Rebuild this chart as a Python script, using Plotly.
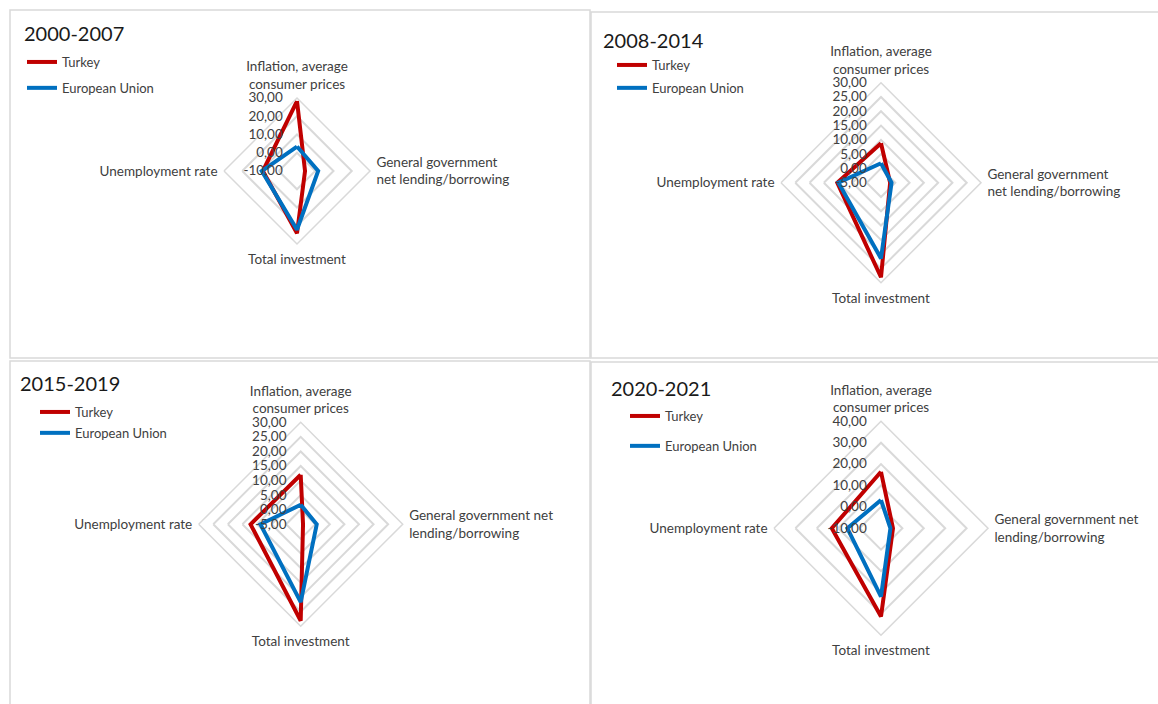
import plotly.graph_objects as go

W, H = 1158, 704

# Categories (clockwise from the top)
categories_a = ["Inflation, average<br>consumer prices",
                "General government<br>net lending/borrowing",
                "Total investment",
                "Unemployment rate"]
categories_b = ["Inflation, average<br>consumer prices",
                "General government net<br>lending/borrowing",
                "Total investment",
                "Unemployment rate"]

periods = ["2000-2007", "2008-2014", "2015-2019", "2020-2021"]

# Period averages: inflation, GG net lending/borrowing, total investment, unemployment
turkey_2000_2007 = [28.3, -5.6, 24.1, 8.7]
eu_2000_2007 = [3.4, 1.6, 22.2, 9.3]
turkey_2008_2014 = [8.8, -1.8, 28.1, 10.3]
eu_2008_2014 = [1.8, -1.3, 21.5, 9.9]
turkey_2015_2019 = [12.0, -4.2, 28.1, 12.2]
eu_2015_2019 = [1.7, 0.5, 21.7, 8.8]
turkey_2020_2021 = [16.4, -4.4, 31.2, 13.0]
eu_2020_2021 = [3.2, -5.6, 21.9, 5.7]

# Radial axis ticks and their labels (comma decimals, plain hyphen)
ticks_10_30 = [-10, 0, 10, 20, 30]
labels_10_30 = ["-10,00", "0,00", "10,00", "20,00", "30,00"]
ticks_5_30 = [-5, 0, 5, 10, 15, 20, 25, 30]
labels_5_30 = ["-5,00", "0,00", "5,00", "10,00", "15,00", "20,00", "25,00", "30,00"]
ticks_10_40 = [-10, 0, 10, 20, 30, 40]
labels_10_40 = ["-10,00", "0,00", "10,00", "20,00", "30,00", "40,00"]

radial_ranges = [[-10, 30], [-5, 30], [-5, 30], [-10, 40]]
radial_ticks = [(ticks_10_30, labels_10_30), (ticks_5_30, labels_5_30),
                (ticks_5_30, labels_5_30), (ticks_10_40, labels_10_40)]

RED = "#C00000"
BLUE = "#0070C0"
GRID = "#D9D9D9"
TEXT = "#404040"
FONT = "Lato, 'Open Sans', sans-serif"

# panel layout in pixels: (center x, center y, outer radius)
geom = [(297, 171, 73), (881, 182.7, 100), (300.7, 524.3, 102), (881, 528.3, 107)]
boxes = [(10, 10, 590, 358), (591, 12, 1170, 358), (10, 361, 590, 720), (591, 362, 1170, 720)]
title_pos = [(22, 33), (601, 40), (18, 383), (609, 388)]
legend_pos = [(22, 47, 6), (612, 50, 3), (35, 397, 1), (625, 401, 10)]

series = [
    (turkey_2000_2007, eu_2000_2007, categories_a),
    (turkey_2008_2014, eu_2008_2014, categories_a),
    (turkey_2015_2019, eu_2015_2019, categories_b),
    (turkey_2020_2021, eu_2020_2021, categories_b),
]

fig = go.Figure()
layout = dict(
    width=W, height=H,
    margin=dict(l=0, r=0, t=0, b=0),
    paper_bgcolor="white",
    plot_bgcolor="white",
    font=dict(family=FONT, size=13, color=TEXT),
    shapes=[], annotations=[],
)

for i, (tr, eu, cats) in enumerate(series):
    pid = "polar" if i == 0 else f"polar{i+1}"
    lid = "legend" if i == 0 else f"legend{i+1}"
    for name, vals, col, grp in (("Turkey", tr, RED, "t"), ("European Union", eu, BLUE, "e")):
        fig.add_trace(go.Scatterpolar(
            r=vals + vals[:1], theta=cats + cats[:1],
            mode="lines", name=name,
            line=dict(color=col, width=4),
            subplot=pid, legend=lid, legendgroup=f"{grp}{i}",
        ))
    cx, cy, R = geom[i]
    tv, tt = radial_ticks[i]
    layout[pid] = dict(
        domain=dict(x=[(cx - R) / W, (cx + R) / W], y=[1 - (cy + R) / H, 1 - (cy - R) / H]),
        gridshape="linear",
        bgcolor="rgba(0,0,0,0)",
        radialaxis=dict(
            range=radial_ranges[i], tickmode="array", tickvals=tv, ticktext=tt,
            angle=90, tickangle=90, side="counterclockwise",
            showline=False, ticks="outside", ticklen=9, tickcolor="rgba(0,0,0,0)",
            gridcolor=GRID, gridwidth=1.5,
            tickfont=dict(size=13.5, color=TEXT),
        ),
        angularaxis=dict(
            rotation=90, direction="clockwise",
            showgrid=False, showline=True, linecolor=GRID, linewidth=1.5,
            ticks="outside", ticklen=3, tickcolor="rgba(0,0,0,0)",
            tickfont=dict(size=13.5, color=TEXT),
        ),
    )
    lx, ly, gap = legend_pos[i]
    layout[lid] = dict(
        x=lx / W, y=1 - ly / H, xanchor="left", yanchor="top",
        bgcolor="rgba(0,0,0,0)", font=dict(size=13, color=TEXT),
        traceorder="grouped", tracegroupgap=gap, itemwidth=30,
    )
    x0, y0, x1, y1 = boxes[i]
    layout["shapes"].append(dict(
        type="rect", xref="paper", yref="paper",
        x0=x0 / W, x1=x1 / W, y0=1 - y1 / H, y1=1 - y0 / H,
        line=dict(color=GRID, width=1.5), fillcolor="rgba(0,0,0,0)", layer="below",
    ))
    tx, ty = title_pos[i]
    layout["annotations"].append(dict(
        text=periods[i], xref="paper", yref="paper",
        x=tx / W, y=1 - ty / H, xanchor="left", yanchor="middle",
        showarrow=False, font=dict(size=20, color="#1a1a1a", family=FONT),
    ))

fig.update_layout(**layout)
fig.write_html("out.html")
